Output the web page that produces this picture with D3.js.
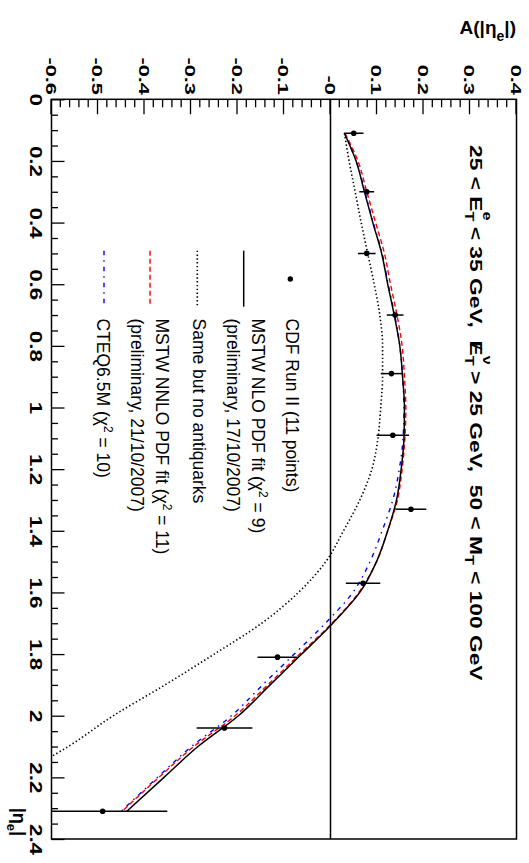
<!DOCTYPE html>
<html><head><meta charset="utf-8">
<script src="https://cdn.jsdelivr.net/npm/d3@7"></script>
<style>
body{margin:0;background:#fff}
svg{display:block}
text{font-family:"Liberation Sans",Arial,Helvetica,sans-serif;fill:#000}
</style></head>
<body><svg id="c" width="529" height="863"></svg>
<script>
// ---- data ----
const etaPts  = [0.11, 0.30, 0.50, 0.70, 0.89, 1.09, 1.33, 1.57, 1.81, 2.04, 2.31];
const asymPts = [0.050, 0.078, 0.078, 0.139, 0.131, 0.134, 0.173, 0.070, -0.114, -0.228, -0.490];
const asymErr = [0.021, 0.016, 0.019, 0.018, 0.023, 0.035, 0.033, 0.037, 0.043, 0.060, 0.139];

const etaCurve = [0.11,0.2,0.3,0.4,0.5,0.6,0.7,0.8,0.9,1.0,1.1,1.2,1.3,1.4,1.5,1.6,1.7,1.8,1.9,2.0,2.1,2.2,2.31];
const mstwNLO  = [0.030,0.055,0.073,0.091,0.110,0.123,0.137,0.149,0.155,0.159,0.158,0.152,0.142,0.123,0.099,0.063,0.005,-0.062,-0.130,-0.198,-0.285,-0.358,-0.438];
const mstwNNLO = [0.031,0.059,0.078,0.097,0.116,0.129,0.143,0.154,0.159,0.162,0.160,0.154,0.144,0.123,0.099,0.061,0.003,-0.066,-0.135,-0.205,-0.294,-0.369,-0.448];
const cteq     = [0.030,0.055,0.074,0.092,0.111,0.124,0.138,0.149,0.155,0.158,0.156,0.148,0.134,0.111,0.085,0.048,-0.011,-0.078,-0.146,-0.213,-0.299,-0.372,-0.450];
const noAntiq  = [0.030,0.040,0.053,0.066,0.080,0.094,0.106,0.112,0.112,0.108,0.102,0.089,0.063,0.028,-0.010,-0.069,-0.148,-0.250,-0.356,-0.467,-0.564,-0.680,-0.800];

const etaTicks = [0,0.2,0.4,0.6,0.8,1.0,1.2,1.4,1.6,1.8,2.0,2.2,2.4];
const etaTickLabels = ["0","0.2","0.4","0.6","0.8","1","1.2","1.4","1.6","1.8","2","2.2","2.4"];
const aTicks = [-0.6,-0.5,-0.4,-0.3,-0.2,-0.1,0,0.1,0.2,0.3,0.4];
const aTickLabels = ["-0.6","-0.5","-0.4","-0.3","-0.2","-0.1","-0","0.1","0.2","0.3","0.4"];

const legendLabels = [
  ["CDF Run II (11 points)"],
  ["MSTW NLO PDF fit (χ", "2", " = 9)"],
  ["(preliminary, 17/10/2007)"],
  ["Same but no antiquarks"],
  ["MSTW NNLO PDF fit (χ", "2", " = 11)"],
  ["(preliminary, 21/10/2007)"],
  ["CTEQ6.5M (χ", "2", " = 10)"]
];

// ---- drawing (unrotated frame, then rotated 90deg clockwise) ----
const svg = d3.select("#c");
const g = svg.append("g").attr("transform","translate(529,0) rotate(90)");

const x = d3.scaleLinear().domain([0,2.4]).range([99.3,839]);
const y = d3.scaleLinear().domain([-0.6,0.4]).range([477.5,12.5]);

g.append("clipPath").attr("id","clip").append("rect")
  .attr("x",x(0)).attr("y",y(0.4)).attr("width",x(2.4)-x(0)).attr("height",y(-0.6)-y(0.4));

// zero line
g.append("line").attr("x1",x(0)).attr("x2",x(2.4)).attr("y1",y(0)).attr("y2",y(0))
  .attr("stroke","#000").attr("stroke-width",1.5);

// axes
const r2 = v => Math.round(v*1000)/1000;
const etaMinor = d3.range(0,49).map(i=>r2(i*0.05)).filter(v=>!etaTicks.some(t=>Math.abs(t-v)<1e-6));
const aMinor = d3.range(0,51).map(i=>r2(-0.6+i*0.02)).filter(v=>!aTicks.some(t=>Math.abs(t-v)<1e-6));

const xAx = g.append("g").attr("transform",`translate(0,${y(-0.6)})`)
  .call(d3.axisBottom(x).tickValues(etaTicks).tickFormat((d,i)=>etaTickLabels[i]).tickSizeInner(-13).tickSizeOuter(0));
g.append("g").attr("transform",`translate(0,${y(-0.6)})`)
  .call(d3.axisBottom(x).tickValues(etaMinor).tickFormat("").tickSizeInner(-6.5).tickSizeOuter(0))
  .select(".domain").remove();
xAx.select(".domain").remove();
xAx.selectAll("text").attr("y",21.5).attr("dy",null)
  .style("font-size","16px").style("font-weight","bold").attr("transform","scale(1.4,1)");

const yAx = g.append("g").attr("transform",`translate(${x(0)},0)`)
  .call(d3.axisLeft(y).tickValues(aTicks).tickFormat((d,i)=>aTickLabels[i]).tickSizeInner(-15).tickSizeOuter(0));
g.append("g").attr("transform",`translate(${x(0)},0)`)
  .call(d3.axisLeft(y).tickValues(aMinor).tickFormat("").tickSizeInner(-8).tickSizeOuter(0))
  .select(".domain").remove();
yAx.select(".domain").remove();
yAx.selectAll("text").attr("x",-3).attr("dy","0.36em")
  .style("font-size","15px").style("font-weight","bold").attr("transform","scale(1.45,1)");
g.selectAll(".tick line").attr("stroke-width",1.3);

// frame
g.append("rect").attr("x",x(0)).attr("y",y(0.4)).attr("width",x(2.4)-x(0)).attr("height",y(-0.6)-y(0.4))
  .attr("fill","none").attr("stroke","#000").attr("stroke-width",1.5);

// curves
const plot = g.append("g").attr("clip-path","url(#clip)");
const line = d3.line().x((d,i)=>x(etaCurve[i])).y(d=>y(d)).curve(d3.curveMonotoneX);
plot.append("path").attr("d",line(noAntiq)).attr("fill","none").attr("stroke","#000").attr("stroke-width",1.6).attr("stroke-dasharray","1.4,2.4");
plot.append("path").attr("d",line(cteq)).attr("fill","none").attr("stroke","#0000ff").attr("stroke-width",1.4).attr("stroke-dasharray","4.5,5,1.5,5");
plot.append("path").attr("d",line(mstwNNLO)).attr("fill","none").attr("stroke","#ff0000").attr("stroke-width",1.4).attr("stroke-dasharray","5,3");
plot.append("path").attr("d",line(mstwNLO)).attr("fill","none").attr("stroke","#000").attr("stroke-width",1.5);

// data points
plot.selectAll("line.err").data(etaPts).join("line").attr("class","err")
  .attr("x1",d=>x(d)).attr("x2",d=>x(d))
  .attr("y1",(d,i)=>y(asymPts[i]-asymErr[i])).attr("y2",(d,i)=>y(asymPts[i]+asymErr[i]))
  .attr("stroke","#000").attr("stroke-width",1.5);
plot.selectAll("circle.pt").data(etaPts).join("circle").attr("class","pt")
  .attr("cx",d=>x(d)).attr("cy",(d,i)=>y(asymPts[i])).attr("r",2.8).attr("fill","#000");

// legend
const lx0 = 250.7, lx1 = 306.7;
g.append("circle").attr("cx",279).attr("cy",238.7).attr("r",2.7).attr("fill","#000");
g.append("line").attr("x1",lx0).attr("x2",lx1).attr("y1",285.3).attr("y2",285.3).attr("stroke","#000").attr("stroke-width",1.5);
g.append("line").attr("x1",lx0).attr("x2",lx1).attr("y1",331.7).attr("y2",331.7).attr("stroke","#000").attr("stroke-width",1.6).attr("stroke-dasharray","1.4,2.4");
g.append("line").attr("x1",lx0).attr("x2",lx1).attr("y1",379).attr("y2",379).attr("stroke","#ff0000").attr("stroke-width",1.4).attr("stroke-dasharray","5,3");
g.append("line").attr("x1",lx0).attr("x2",lx1).attr("y1",425).attr("y2",425).attr("stroke","#0000ff").attr("stroke-width",1.4).attr("stroke-dasharray","4.5,5,1.5,5");
const legY = [243.5,277.5,302.5,336,373,398,432];
legendLabels.forEach((parts,i)=>{
  const t = g.append("text").attr("x",318.5).attr("y",legY[i]).style("font-size","17.5px").style("white-space","pre");
  parts.forEach((p,j)=>{
    const ts = t.append("tspan").text(p);
    if (parts.length===3 && j===1) ts.style("font-size","12px").attr("dy",-7);
    if (parts.length===3 && j===2) ts.attr("dy",7);
  });
});

// title (stretched along reading direction, as in the reference)
const tsx = 1.34;
const title = g.append("text").attr("x",145/tsx).attr("y",59.5).attr("transform",`scale(${tsx},1)`)
  .style("font-size","17px").style("font-weight","bold").style("white-space","pre");
title.append("tspan").text("25 < E");
title.append("tspan").text("T").style("font-size","12px").attr("dy",5);
title.append("tspan").text("e").style("font-size","12px").attr("dy",-18).attr("dx",-7.3);
title.append("tspan").text(" < 35 GeV,  E").attr("dy",13);
title.append("tspan").text("/").attr("dx",-9).style("font-weight","normal");
title.append("tspan").text("T").style("font-size","12px").attr("dy",5).attr("dx",4.4);
title.append("tspan").text("ν").style("font-size","12px").attr("dy",-18).attr("dx",-7.3);
title.append("tspan").text(" > 25 GeV,  50 < M").attr("dy",13);
title.append("tspan").text("T").style("font-size","12px").attr("dy",5);
title.append("tspan").text(" < 100 GeV").attr("dy",-5);

// axis titles
const xt = g.append("text").attr("x",836).attr("y",516).attr("text-anchor","end")
  .style("font-size","18px").style("font-weight","bold");
xt.append("tspan").text("|η");
xt.append("tspan").text("e").style("font-size","13px").attr("dy",6);
xt.append("tspan").text("|").attr("dy",-6);

const yt = svg.append("text").attr("x",516).attr("y",34).attr("text-anchor","end")
  .style("font-size","19px").style("font-weight","bold");
yt.append("tspan").text("A(|η");
yt.append("tspan").text("e").style("font-size","14px").attr("dy",7);
yt.append("tspan").text("|)").attr("dy",-7);
</script></body></html>
